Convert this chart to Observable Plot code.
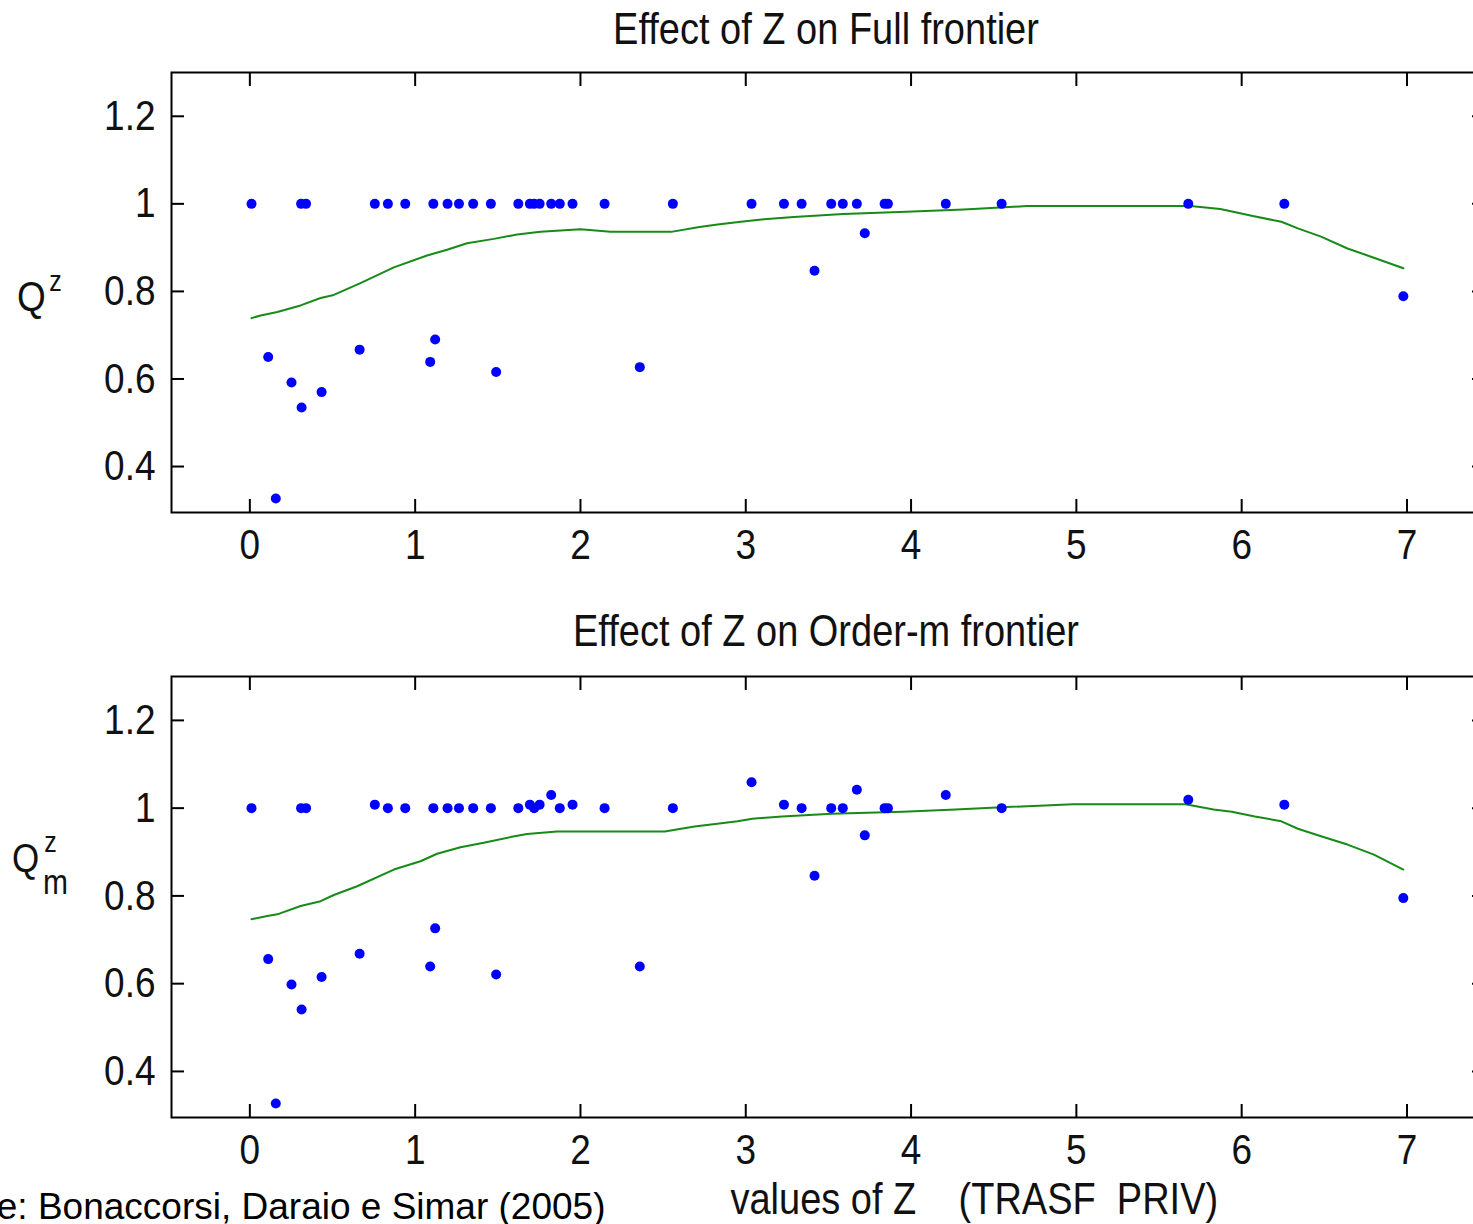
<!DOCTYPE html>
<html><head><meta charset="utf-8">
<script src="https://cdn.jsdelivr.net/npm/d3@7"></script>
<script src="https://cdn.jsdelivr.net/npm/@observablehq/plot@0.6"></script>
<style>
html,body{margin:0;padding:0;background:#fff;overflow:hidden;width:1473px;height:1224px;}
#chart{width:1473px;height:1224px;overflow:hidden;}
#chart svg{display:block;}
#chart svg text{white-space:pre;}
</style></head><body><div id="chart"></div><script>
// ---- data ----
const zValues = [0.01,0.111,0.157,0.252,0.31,0.313,0.34,0.434,0.664,0.756,0.835,0.94,1.091,1.11,1.121,1.196,1.265,1.351,1.458,1.49,1.624,1.694,1.72,1.753,1.823,1.875,1.952,2.146,2.359,2.559,3.035,3.231,3.338,3.416,3.517,3.587,3.672,3.72,3.84,3.86,4.21,4.548,5.677,6.258,6.978];
const qFull = [1,0.65,0.327,0.592,1,0.535,1,0.57,0.667,1,1,1,0.639,1,0.69,1,1,1,1,0.616,1,1,1,1,1,1,1,1,0.627,1,1,1,1,0.847,1,1,1,0.933,1,1,1,1,1,1,0.789];
const qOrderM = [1,0.656,0.327,0.598,1,0.541,1,0.615,0.668,1.008,1,1,0.639,1,0.726,1,1,1,1,0.621,1,1.008,1,1.008,1.03,1,1.008,1,0.639,1,1.059,1.008,1,0.846,1,1,1.042,0.938,1,1,1.03,1,1.019,1.008,0.795];

const lineZFull = [0.01,0.065,0.166,0.307,0.428,0.508,0.669,0.871,1.072,1.193,1.314,1.476,1.617,1.758,2.0,2.182,2.549,2.72,2.83,2.97,3.11,3.29,3.59,3.97,4.32,4.70,5.69,5.87,5.97,6.06,6.24,6.34,6.48,6.64,6.80,6.978];
const lineQFull = [0.739,0.745,0.753,0.768,0.785,0.792,0.819,0.855,0.882,0.895,0.91,0.92,0.93,0.936,0.942,0.936,0.936,0.947,0.953,0.959,0.965,0.970,0.977,0.982,0.987,0.995,0.995,0.988,0.980,0.973,0.959,0.944,0.925,0.898,0.877,0.853];
const lineZOrderM = [0.01,0.105,0.166,0.307,0.428,0.508,0.649,0.871,1.032,1.133,1.274,1.415,1.576,1.677,1.858,2.51,2.69,2.84,2.95,3.04,3.22,3.52,3.95,4.27,4.61,4.98,5.66,5.83,5.94,6.08,6.24,6.34,6.48,6.64,6.80,6.978];
const lineQOrderM = [0.747,0.754,0.758,0.777,0.788,0.802,0.822,0.860,0.879,0.896,0.911,0.921,0.934,0.941,0.947,0.947,0.958,0.965,0.970,0.976,0.981,0.987,0.992,0.997,1.003,1.009,1.009,0.997,0.992,0.981,0.970,0.953,0.936,0.917,0.894,0.860];

const xTicks = [0,1,2,3,4,5,6,7];
const yTicks = [0.4,0.6,0.8,1,1.2];
const titles = ["Effect of Z on Full frontier","Effect of Z on Order-m frontier"];
const xLabel = "values of Z    (TRASF  PRIV)";
const caption = "e: Bonaccorsi, Daraio e Simar (2005)";

// ---- build ----
const FONT = "'Liberation Sans', Arial, Helvetica, sans-serif";
const GREEN = "#178a17";
const pts = (q) => zValues.map((z,i)=>({z, q:q[i]}));
const lin = (zs,qs) => zs.map((z,i)=>({z, q:qs[i]}));

function panel({dots, line, title, height, marginTop, marginBottom, titleDy, extra}) {
  return Plot.plot({
    width: 1486, height, marginLeft: 171, marginRight: 2, marginTop, marginBottom,
    style: {fontFamily: FONT, maxWidth: "none", color: "#000", background: "#fff", overflow: "visible"},
    x: {domain: [-0.474, 7.469]},
    y: {domain: [0.295, 1.3]},
    marks: [
      Plot.line(line, {x: "z", y: "q", stroke: GREEN, strokeWidth: 2}),
      Plot.dot(dots, {x: "z", y: "q", r: 5, fill: "#0000ff", stroke: "none"}),
      Plot.frame({stroke: "#000", strokeWidth: 2}),
      Plot.axisX(xTicks, {anchor: "bottom", tickSize: -13, strokeWidth: 2, text: null, label: null}),
      Plot.axisX(xTicks, {anchor: "top", tickSize: -13, strokeWidth: 2, text: null, label: null}),
      Plot.axisY(yTicks, {anchor: "left", tickSize: -13, strokeWidth: 2, text: null, label: null}),
      Plot.axisY(yTicks, {anchor: "right", tickSize: -13, strokeWidth: 2, text: null, label: null}),
      Plot.axisX(xTicks, {anchor: "bottom", tickSize: 0, tickPadding: 16, fontSize: 37, label: null, tickFormat: d => String(d), fill: "#111"}),
      Plot.axisY(yTicks, {anchor: "left", tickSize: 0, tickPadding: 16, fontSize: 37, label: null, tickFormat: d => String(+d.toFixed(1)), fill: "#111"}),
      Plot.text([title], {frameAnchor: "top", lineAnchor: "middle", dx: -2, dy: titleDy, fontSize: 38, fill: "#111"}),
      ...extra
    ]
  });
}

const topPlot = panel({
  dots: pts(qFull), line: lin(lineZFull, lineQFull), title: titles[0],
  height: 600, marginTop: 72, marginBottom: 88, titleDy: -42,
  extra: [
    Plot.text(["Q"], {frameAnchor: "left", lineAnchor: "middle", dx: -140, dy: 5, fontSize: 37, textAnchor: "middle", fill: "#111"}),
    Plot.text(["z"], {frameAnchor: "left", lineAnchor: "middle", dx: -116, dy: -11, fontSize: 25, textAnchor: "middle", fill: "#111"})
  ]
});
const bottomPlot = panel({
  dots: pts(qOrderM), line: lin(lineZOrderM, lineQOrderM), title: titles[1],
  height: 624, marginTop: 76, marginBottom: 107, titleDy: -44,
  extra: [
    Plot.text(["Q"], {frameAnchor: "left", lineAnchor: "middle", dx: -146, dy: -38, fontSize: 35, textAnchor: "middle", fill: "#111"}),
    Plot.text(["z"], {frameAnchor: "left", lineAnchor: "middle", dx: -121, dy: -54, fontSize: 25, textAnchor: "middle", fill: "#111"}),
    Plot.text(["m"], {frameAnchor: "left", lineAnchor: "middle", dx: -116, dy: -14, fontSize: 30, textAnchor: "middle", fill: "#111"}),
    Plot.text([xLabel], {frameAnchor: "bottom-left", lineAnchor: "middle", dx: 559, dy: 83, fontSize: 38, textAnchor: "start", fill: "#111"}),
    Plot.text([caption], {frameAnchor: "bottom-left", lineAnchor: "middle", dx: 434, dy: 90, fontSize: 37, textAnchor: "end", fill: "#000"})
  ]
});

const root = document.getElementById("chart");
root.append(topPlot, bottomPlot);

// slightly tall, condensed look of the original raster text
for (const svg of [topPlot, bottomPlot]) {
  svg.querySelectorAll("text").forEach(t => {
    if (t.textContent.startsWith("e:")) return;
    const tr = t.getAttribute("transform");
    if (!tr) return;
    t.setAttribute("transform", tr + " scale(1,1.15)");
  });
}
</script></body></html>
